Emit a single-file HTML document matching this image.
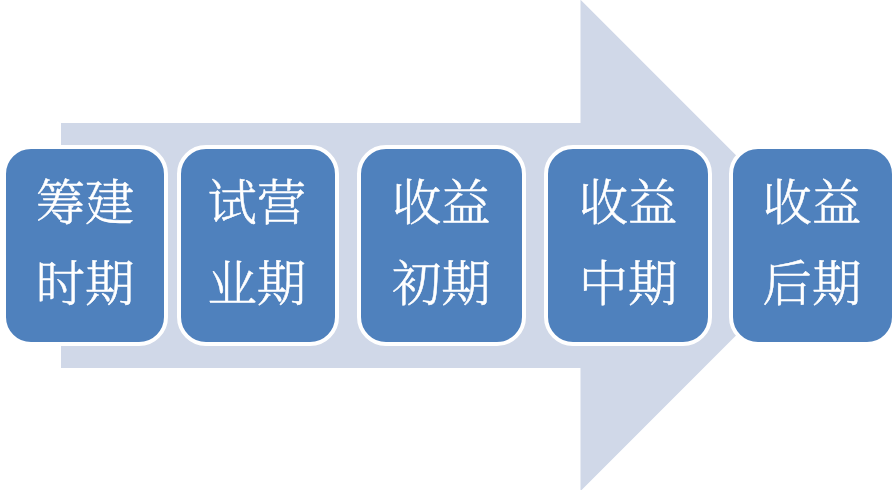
<!DOCTYPE html>
<html lang="zh-CN">
<head>
<meta charset="utf-8">
<title>收益阶段流程</title>
<style>
html,body{margin:0;padding:0;background:#fff;}
body{width:896px;height:490px;overflow:hidden;position:relative;}
svg{position:absolute;left:0;top:0;display:block;}
.t{font-family:"Liberation Serif","Noto Serif CJK SC","Noto Sans CJK SC",serif;font-size:49.3px;fill:#fff;text-anchor:middle;font-weight:300;stroke:#fff;stroke-width:0.5px;stroke-linejoin:round;}
</style>
</head>
<body>
<svg width="896" height="490" viewBox="0 0 896 490">
  <rect x="0" y="0" width="896" height="490" fill="#ffffff"/>
  <polygon points="61,123 580.5,123 580.5,-0.3 826.2,245.4 580.5,491.1 580.5,368 61,368" fill="#D0D8E8"/>
  <g fill="#4F81BD" stroke="#ffffff" stroke-width="4">
    <rect x="4" y="147" width="162" height="197" rx="27" ry="27"/>
    <rect x="179" y="147" width="158" height="197" rx="27" ry="27"/>
    <rect x="359" y="147" width="165" height="197" rx="27" ry="27"/>
    <rect x="546" y="147" width="164" height="197" rx="27" ry="27"/>
    <rect x="731" y="147" width="163" height="197" rx="27" ry="27"/>
  </g>
  <g class="t">
    <text x="85" y="220.3">筹建</text><text x="85" y="301.3">时期</text>
    <text x="256.8" y="220.3">试营</text><text x="256.8" y="301.3">业期</text>
    <text x="441.2" y="220.3">收益</text><text x="441.2" y="301.3">初期</text>
    <text x="628" y="220.3">收益</text><text x="628" y="301.3">中期</text>
    <text x="811.9" y="220.3">收益</text><text x="811.9" y="301.3">后期</text>
  </g>
</svg>
</body>
</html>
